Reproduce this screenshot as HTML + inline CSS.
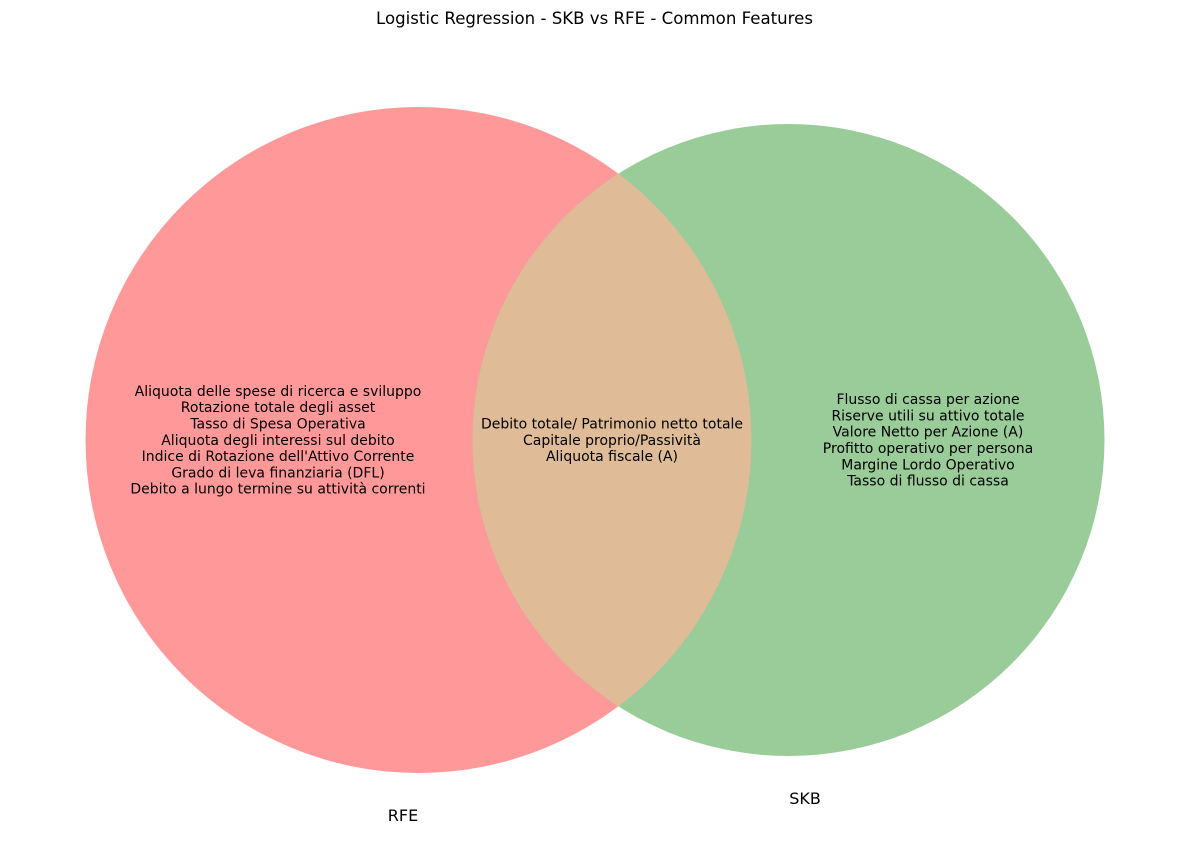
<!DOCTYPE html>
<html><head><meta charset="utf-8"><style>
html,body{margin:0;padding:0;background:#fff;}
svg{display:block;font-family:"DejaVu Sans","Liberation Sans",sans-serif;}
</style></head><body>
<svg id="chart" width="1189" height="859" viewBox="0 0 1189 859" xmlns="http://www.w3.org/2000/svg">
<defs>
<clipPath id="clipL"><circle cx="418.5" cy="440" r="333"/></clipPath>
</defs>
<text x="594.5" y="24" font-size="16.6" text-anchor="middle" fill="#000">Logistic Regression - SKB vs RFE - Common Features</text>
<g id="marks"></g>
</svg>
<script>
const setNames = ["RFE", "SKB"];
const rfeOnly = ["Aliquota delle spese di ricerca e sviluppo","Rotazione totale degli asset","Tasso di Spesa Operativa","Aliquota degli interessi sul debito","Indice di Rotazione dell'Attivo Corrente","Grado di leva finanziaria (DFL)","Debito a lungo termine su attività correnti"];
const common = ["Debito totale/ Patrimonio netto totale","Capitale proprio/Passività","Aliquota fiscale (A)"];
const skbOnly = ["Flusso di cassa per azione","Riserve utili su attivo totale","Valore Netto per Azione (A)","Profitto operativo per persona","Margine Lordo Operativo","Tasso di flusso di cassa"];

const NS = "http://www.w3.org/2000/svg";
const g = document.getElementById('marks');
function mk(tag, attrs){const e=document.createElementNS(NS,tag);for(const k in attrs)e.setAttribute(k,attrs[k]);g.appendChild(e);return e;}

const L = {cx:418.5, cy:440, r:333}, R = {cx:788.5, cy:440, r:316};
const c1 = mk('circle',{cx:L.cx,cy:L.cy,r:L.r,fill:'#ff9999'});


const c2 = mk('circle',{cx:R.cx,cy:R.cy,r:R.r,fill:'#99cc99'});


const c3 = mk('circle',{cx:R.cx,cy:R.cy,r:R.r,fill:'#dfbb97','clip-path':'url(#clipL)'});



function block(lines, x, cy, name){
  const lh = 16.3, y0 = cy - (lines.length-1)*lh/2;
  lines.forEach((s,i)=>{
    const t = mk('text',{x:x, y:y0+i*lh+4.8, 'font-size':14, 'text-anchor':'middle', fill:'#000'});
    t.textContent = s;
    
    
  });
}
block(rfeOnly, 278, 440, 'rfe-only-feature');
block(common, 612, 440, 'common-feature');
block(skbOnly, 928, 440, 'skb-only-feature');

const l1 = mk('text',{x:403,y:821,'font-size':16,'text-anchor':'middle',fill:'#000'});
l1.textContent = setNames[0];


const l2 = mk('text',{x:805,y:804,'font-size':16,'text-anchor':'middle',fill:'#000'});
l2.textContent = setNames[1];


</script>
</body></html>
